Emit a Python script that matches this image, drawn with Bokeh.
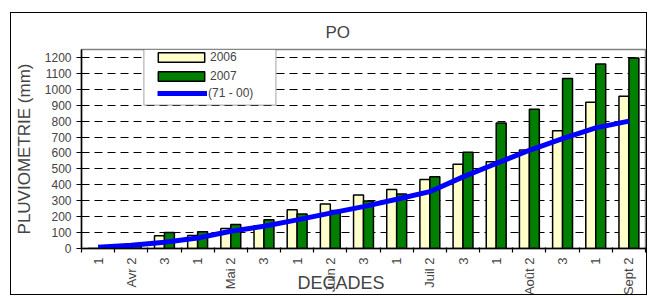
import math
from bokeh.plotting import figure
from bokeh.models import (Range1d, FixedTicker, Legend, LegendItem,
                          BoxAnnotation, ColumnDataSource)
from bokeh.embed import file_html
from bokeh.resources import INLINE

# ---- data ----
decades = ["1", "Avr 2", "3", "1", "Mai 2", "3", "1", "Juin 2", "3",
           "1", "Juil 2", "3", "1", "Août 2", "3", "1", "Sept 2"]
rain_2006 = [0, 10, 80, 82, 126, 143, 243, 280, 336, 371, 433, 529, 545, 618, 740, 918, 956]
rain_2007 = [0, 15, 100, 105, 151, 180, 216, 238, 298, 342, 450, 605, 788, 875, 1068, 1159, 1196]
normal_71_00 = [8, 21, 39, 66, 108, 140, 180, 222, 263, 309, 357, 450, 534, 617, 690, 758, 800]
y_ticks = list(range(0, 1201, 100))

FONT = "Liberation Sans"
n = len(decades)
centers = [i + 0.5 for i in range(n)]
x06 = [c - 0.15 for c in centers]
x07 = [c + 0.15 for c in centers]

p = figure(width=637, height=283, output_backend="svg", toolbar_location=None,
           x_range=Range1d(0, n), y_range=Range1d(0, 1250),
           min_border_left=70, min_border_right=3, min_border_top=35,
           min_border_bottom=47)
p.margin = (12, 0, 0, 10)
p.styles = {"border": "1px solid black"}
p.outline_line_color = "#808080"
p.outline_line_width = 1.5
p.background_fill_color = "white"
p.border_fill_color = "white"

# title
p.title.text = "PO"
p.title.align = "left"
p.title.offset = 244
p.title.text_font = FONT
p.title.text_font_size = "17px"
p.title.text_font_style = "normal"
p.title.standoff = 15

# grid
p.xgrid.visible = False
p.ygrid.ticker = FixedTicker(ticks=y_ticks[1:])
p.ygrid.grid_line_color = "black"
p.ygrid.grid_line_dash = "8 5"
p.ygrid.grid_line_width = 1

# y axis
ya = p.yaxis[0]
ya.ticker = FixedTicker(ticks=y_ticks)
ya.major_tick_in = 4
ya.major_tick_out = 5
ya.minor_tick_line_color = None
ya.axis_line_width = 1.5
ya.major_tick_line_width = 1.2
ya.major_label_text_font = FONT
ya.major_label_text_font_size = "12px"
ya.major_label_standoff = 5
ya.axis_label = "PLUVIOMETRIE (mm)"
ya.axis_label_text_font = FONT
ya.axis_label_text_font_size = "17px"
ya.axis_label_text_font_style = "normal"
ya.axis_label_standoff = 8

# x axis
xa = p.xaxis[0]
xa.ticker = FixedTicker(ticks=centers, minor_ticks=list(range(n + 1)))
xa.major_tick_line_color = None
xa.minor_tick_in = 1
xa.minor_tick_out = 4
xa.minor_tick_line_width = 1.2
xa.axis_line_width = 1.5
xa.major_label_overrides = {c: lab for c, lab in zip(centers, decades)}
xa.major_label_orientation = math.pi / 2
xa.major_label_text_font = FONT
xa.major_label_text_font_size = "13px"
xa.major_label_standoff = 3
# trailing no-break spaces shift the centred title left, as in the original
xa.axis_label = "DECADES" + "\u00a0" * 9
xa.axis_label_text_font = FONT
xa.axis_label_text_font_size = "18px"
xa.axis_label_text_font_style = "normal"
xa.axis_label_standoff = -25

# legend box
p.add_layout(BoxAnnotation(left=1.88, right=5.86, top=1250, bottom=900,
                           fill_color="white", fill_alpha=1,
                           line_color="black", line_width=1.2))

src = ColumnDataSource(dict(x06=x06, x07=x07, xc=centers, r06=rain_2006,
                            r07=rain_2007, nrm=normal_71_00))
b06 = p.vbar(x="x06", top="r06", width=0.3, source=src, fill_color="#FFFFCC",
             line_color="black", line_width=1.5)
b07 = p.vbar(x="x07", top="r07", width=0.3, source=src, fill_color="#007F00",
             line_color="black", line_width=1.5)
ln = p.line(x="xc", y="nrm", source=src, line_color="#0000FF", line_width=5)

def mk_legend(label, rend, loc, gw, gh, standoff):
    lg = Legend(items=[LegendItem(label=label, renderers=[rend])], location=loc,
                border_line_color=None, background_fill_alpha=0, padding=0,
                margin=0, spacing=0, glyph_width=gw, glyph_height=gh,
                label_standoff=standoff, label_height=gh,
                label_text_font=FONT, label_text_font_size="12px")
    p.add_layout(lg, "center")

mk_legend("2006", b06, (71, 184), 58, 12, 0)
mk_legend("2007", b07, (71, 165), 58, 12, 0)
mk_legend("(71 - 00)", ln, (76, 148), 50, 12, 1)

open("out.html", "w").write(file_html(p, INLINE))
